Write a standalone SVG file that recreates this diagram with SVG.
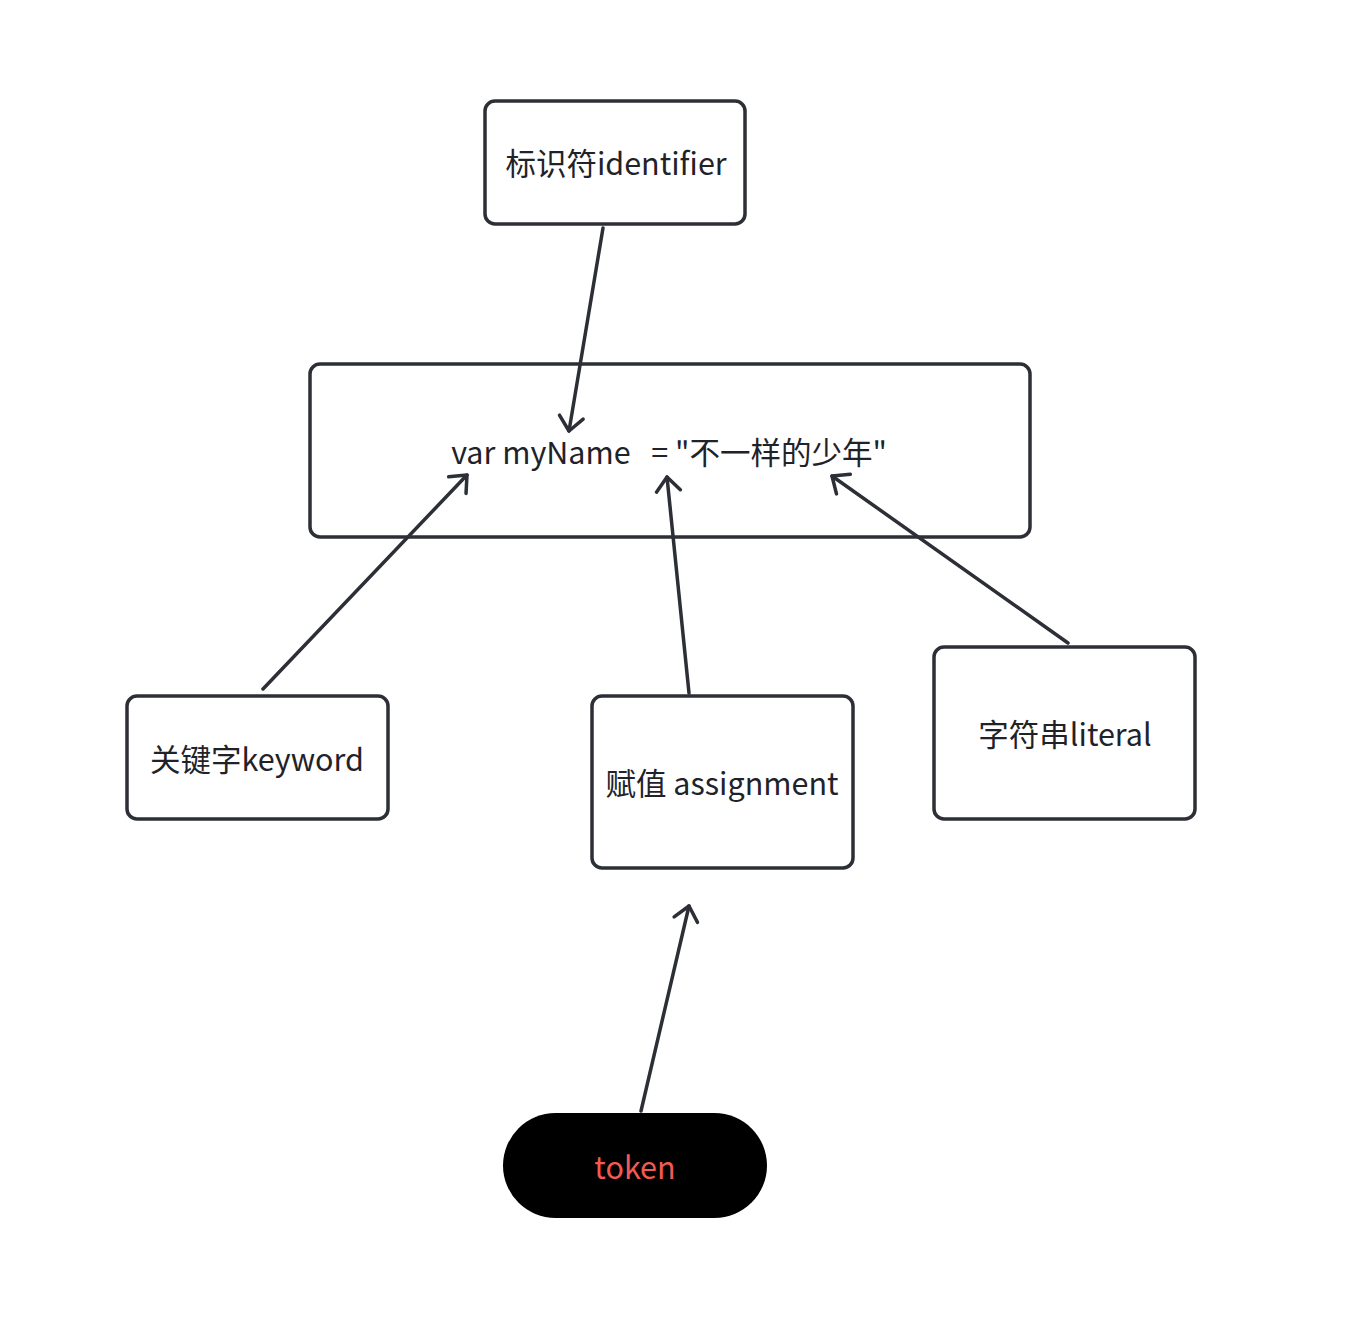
<svg xmlns="http://www.w3.org/2000/svg" width="1368" height="1344" viewBox="0 0 1368 1344">
<style>
.box{fill:#fff;stroke:#2c2f36;stroke-width:3.5}
.t{font-family:"Noto Sans CJK SC","Noto Sans",sans-serif;font-size:30.5px;fill:#1f2329;text-anchor:middle;white-space:pre}
.c{fill:none;stroke:#2c2f36;stroke-width:3.5;stroke-linecap:round}
</style>
<defs>
<marker id="ah" markerUnits="userSpaceOnUse" markerWidth="40" markerHeight="40" refX="20" refY="20" orient="auto">
<path d="M6,8 L20,20 L6,32" fill="none" stroke="#2c2f36" stroke-width="3.5" stroke-linecap="round" stroke-linejoin="round"/>
</marker>
</defs>
<rect width="1368" height="1344" fill="#fff"/>
<g id="identifier"><rect class="box" x="485" y="101" width="260" height="123" rx="10"/><text class="t" x="616" y="175">标识符identifier</text></g>
<g id="main"><rect class="box" x="310" y="364" width="720" height="173" rx="10"/><text class="t" x="669" y="464" xml:space="preserve">var myName   = "不一样的少年"</text></g>
<g id="keyword"><rect class="box" x="127" y="696" width="261" height="123" rx="10"/><text class="t" x="257" y="771">关键字keyword</text></g>
<g id="assignment"><rect class="box" x="592" y="696" width="261" height="172" rx="10"/><text class="t" x="722" y="795">赋值 assignment</text></g>
<g id="literal"><rect class="box" x="934" y="647" width="261" height="172" rx="10"/><text class="t" x="1065" y="746">字符串literal</text></g>
<g id="token"><rect x="503" y="1113" width="264" height="105" rx="52.5" fill="#000"/><text class="t" x="635" y="1179" style="fill:#f25a53">token</text></g>
<g id="connectors">
<line class="c" x1="603" y1="228" x2="569" y2="431" marker-end="url(#ah)"/>
<line class="c" x1="263" y1="689" x2="467" y2="475" marker-end="url(#ah)"/>
<line class="c" x1="689" y1="693" x2="667" y2="477" marker-end="url(#ah)"/>
<line class="c" x1="1068" y1="643" x2="832" y2="476" marker-end="url(#ah)"/>
<line class="c" x1="641" y1="1111" x2="689" y2="906" marker-end="url(#ah)"/>
</g>
</svg>
